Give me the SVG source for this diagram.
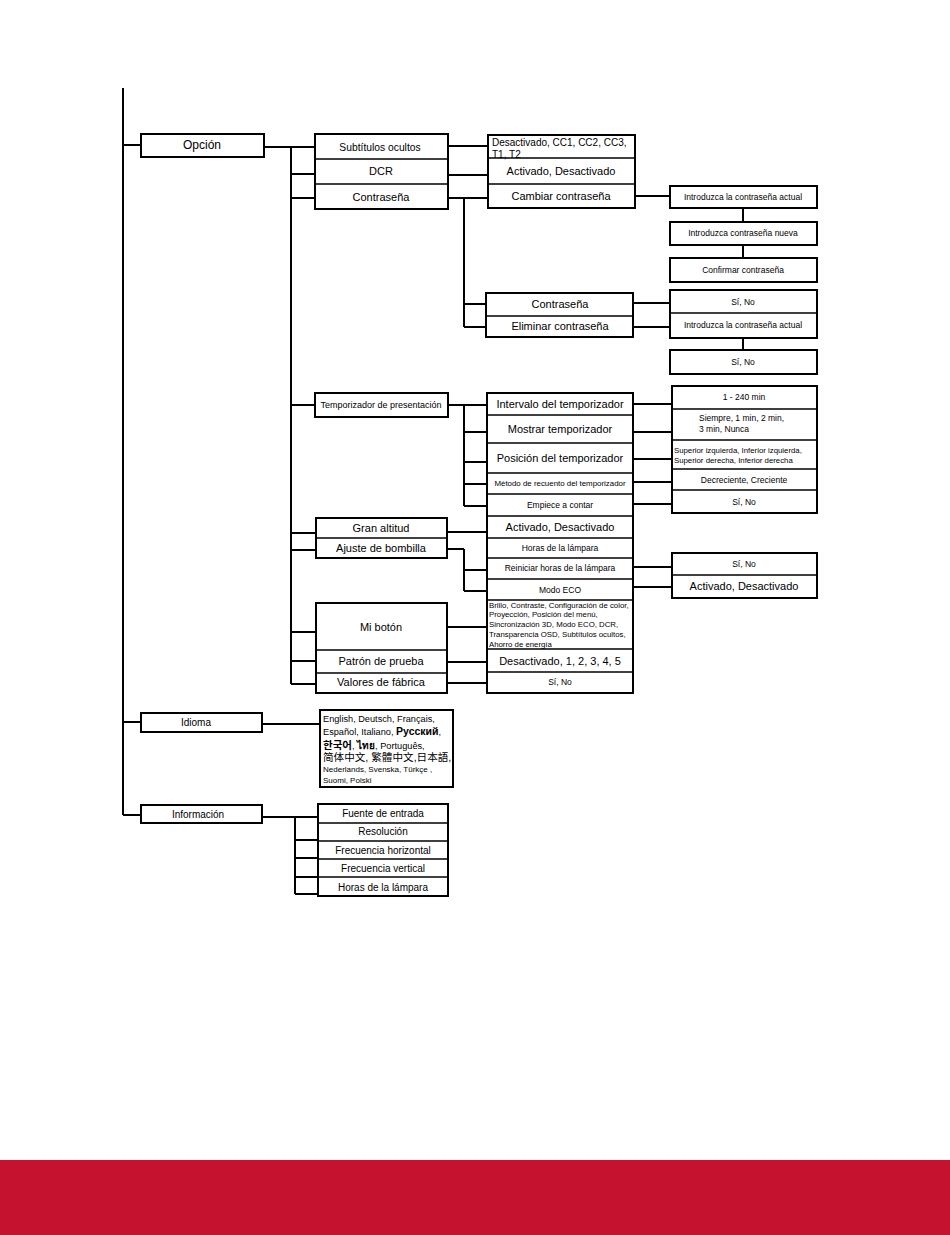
<svg xmlns="http://www.w3.org/2000/svg" width="950" height="1235" viewBox="0 0 950 1235">
<style>
.b{fill:#fff;stroke:#000;stroke-width:2}
.s{stroke:#000;stroke-width:1.6}
.c{stroke:#000;stroke-width:2;fill:none}
text{font-family:"Liberation Sans",Arial,sans-serif;fill:#000}
.m{text-anchor:middle;dominant-baseline:central}
.l{dominant-baseline:central}
.f12{font-size:12px}.f11{font-size:11px}.f10{font-size:10px}.f9{font-size:9px}.f8{font-size:8.5px}.f7{font-size:7.8px}
</style>
<rect x="0" y="1160" width="950" height="75" fill="#C4122F"/>
<g id="connectors">
<path class="c" d="M123,88V815 M123,145H141 M123,722H141 M123,815H141"/>
<path class="c" d="M264,147H315 M291,147V684 M291,174H315 M291,198H315 M291,405H315 M291,533H316 M291,550H316 M291,632H316 M291,661H316 M291,684H316"/>
<path class="c" d="M448,146H488 M448,175H488 M448,198H488 M464,198V327 M464,304H486 M464,327H486 M635,196H670 M743,208V222 M743,245V258 M633,303H670 M633,327H670 M743,338V350"/>
<path class="c" d="M448,405H487 M464,405V506 M464,432H487 M464,462H487 M464,484H487 M464,506H487 M633,404H672 M633,432H672 M633,459H672 M633,482H672 M633,504H672"/>
<path class="c" d="M447,532H487 M447,549H464 M464,549V591 M464,570H487 M464,591H487 M633,567H672 M633,587H672 M447,627H487 M447,662H487 M447,683H487"/>
<path class="c" d="M262,724H320 M262,817H318 M295,817V894 M295,840H318 M295,858H318 M295,877H318 M295,894H318"/>
</g>
<g id="opcion"><rect class="b" x="141" y="134" width="123" height="23"/><text class="m f12" x="202" y="145">Opción</text></g>
<g id="opcion-items">
<rect class="b" x="315" y="134" width="133" height="75"/>
<line class="s" x1="315" y1="159" x2="448" y2="159"/><line class="s" x1="315" y1="184" x2="448" y2="184"/>
<text class="m" style="font-size:10.3px" x="380" y="147">Subtítulos ocultos</text>
<text class="m f11" x="381" y="171">DCR</text>
<text class="m f11" x="381" y="197">Contraseña</text>
</g>
<g id="subtitulos-dcr-cambiar">
<rect class="b" x="488" y="135" width="147" height="73"/>
<line class="s" x1="488" y1="158" x2="635" y2="158"/><line class="s" x1="488" y1="184" x2="635" y2="184"/>
<text class="l f10" x="492" y="142">Desactivado, CC1, CC2, CC3,</text>
<text class="l f10" x="492" y="154">T1, T2</text>
<text class="m f11" x="561" y="171">Activado, Desactivado</text>
<text class="m f11" x="561" y="196">Cambiar contraseña</text>
</g>
<g id="cambiar-pasos">
<rect class="b" x="670" y="186" width="147" height="22"/><text class="m f8" x="743" y="197">Introduzca la contraseña actual</text>
<rect class="b" x="670" y="222" width="147" height="23"/><text class="m f8" x="743" y="233">Introduzca contraseña nueva</text>
<rect class="b" x="670" y="258" width="147" height="24"/><text class="m f8" x="743" y="270">Confirmar contraseña</text>
</g>
<g id="contrasena-eliminar">
<rect class="b" x="486" y="293" width="147" height="44"/>
<line class="s" x1="486" y1="316" x2="633" y2="316"/>
<text class="m f11" x="560" y="304">Contraseña</text>
<text class="m f11" x="560" y="326">Eliminar contraseña</text>
</g>
<g id="contrasena-opciones">
<rect class="b" x="670" y="290" width="147" height="48"/>
<line class="s" x1="670" y1="313" x2="817" y2="313"/>
<text class="m f8" x="743" y="302">Sí, No</text>
<text class="m f8" x="743" y="325">Introduzca la contraseña actual</text>
<rect class="b" x="670" y="350" width="147" height="24"/><text class="m f8" x="743" y="362">Sí, No</text>
</g>
<g id="temporizador"><rect class="b" x="315" y="393" width="133" height="24"/><text class="m f9" x="381" y="405">Temporizador de presentación</text></g>
<g id="temporizador-items">
<rect class="b" x="487" y="393" width="146" height="300"/>
<line class="s" x1="487" y1="415" x2="633" y2="415"/>
<line class="s" x1="487" y1="443" x2="633" y2="443"/>
<line class="s" x1="487" y1="473" x2="633" y2="473"/>
<line class="s" x1="487" y1="494" x2="633" y2="494"/>
<line class="s" x1="487" y1="516" x2="633" y2="516"/>
<line class="s" x1="487" y1="538" x2="633" y2="538"/>
<line class="s" x1="487" y1="558" x2="633" y2="558"/>
<line class="s" x1="487" y1="579" x2="633" y2="579"/>
<line class="s" x1="487" y1="600" x2="633" y2="600"/>
<line class="s" x1="487" y1="649" x2="633" y2="649"/>
<line class="s" x1="487" y1="672" x2="633" y2="672"/>
<text class="m f11" x="560" y="404">Intervalo del temporizador</text>
<text class="m f11" x="560" y="429">Mostrar temporizador</text>
<text class="m f11" x="560" y="458">Posición del temporizador</text>
<text class="m" style="font-size:7.9px" x="560" y="483">Método de recuento del temporizador</text>
<text class="m f8" x="560" y="505">Empiece a contar</text>
<text class="m f11" x="560" y="527">Activado, Desactivado</text>
<text class="m f8" x="560" y="548">Horas de la lámpara</text>
<text class="m f8" x="560" y="568">Reiniciar horas de la lámpara</text>
<text class="m f8" x="560" y="590">Modo ECO</text>
<text class="l f7" x="489" y="605">Brillo, Contraste, Configuración de color,</text>
<text class="l f7" x="489" y="614">Proyección, Posición del menú,</text>
<text class="l f7" x="489" y="624">Sincronización 3D, Modo ECO, DCR,</text>
<text class="l f7" x="489" y="634">Transparencia OSD, Subtítulos ocultos,</text>
<text class="l f7" x="489" y="644">Ahorro de energía</text>
<text class="m f11" x="560" y="661">Desactivado, 1, 2, 3, 4, 5</text>
<text class="m f8" x="560" y="682">Sí, No</text>
</g>
<g id="temporizador-opciones">
<rect class="b" x="672" y="386" width="145" height="127"/>
<line class="s" x1="672" y1="409" x2="817" y2="409"/>
<line class="s" x1="672" y1="440" x2="817" y2="440"/>
<line class="s" x1="672" y1="469" x2="817" y2="469"/>
<line class="s" x1="672" y1="490" x2="817" y2="490"/>
<text class="m f8" x="744" y="397">1 - 240 min</text>
<text class="l f8" x="699" y="418">Siempre, 1 min, 2 min,</text>
<text class="l f8" x="699" y="429">3 min, Nunca</text>
<text class="l f7" x="674" y="450">Superior izquierda, Inferior izquierda,</text>
<text class="l f7" x="674" y="460">Superior derecha, Inferior derecha</text>
<text class="m f8" x="744" y="480">Decreciente, Creciente</text>
<text class="m f8" x="744" y="502">Sí, No</text>
</g>
<g id="gran-altitud-ajuste">
<rect class="b" x="316" y="518" width="131" height="40"/>
<line class="s" x1="316" y1="538" x2="447" y2="538"/>
<text class="m f11" x="381" y="528">Gran altitud</text>
<text class="m f11" x="381" y="548">Ajuste de bombilla</text>
</g>
<g id="reiniciar-eco-opciones">
<rect class="b" x="672" y="553" width="145" height="45"/>
<line class="s" x1="672" y1="575" x2="817" y2="575"/>
<text class="m f8" x="744" y="564">Sí, No</text>
<text class="m f11" x="744" y="586">Activado, Desactivado</text>
</g>
<g id="mi-boton-patron-valores">
<rect class="b" x="316" y="603" width="131" height="90"/>
<line class="s" x1="316" y1="650" x2="447" y2="650"/>
<line class="s" x1="316" y1="673" x2="447" y2="673"/>
<text class="m f11" x="381" y="627">Mi botón</text>
<text class="m f11" x="381" y="661">Patrón de prueba</text>
<text class="m f11" x="381" y="682">Valores de fábrica</text>
</g>
<g id="idioma"><rect class="b" x="141" y="713" width="121" height="19"/><text class="m f10" x="196" y="722">Idioma</text></g>
<g id="idioma-lista">
<rect class="b" x="320" y="710" width="133" height="77"/>
<text style="font-size:9.2px" x="323" y="722">English,  Deutsch,  Français,</text>
<text style="font-size:9.2px" x="323" y="735">Español,  Italiano, <tspan font-weight="bold" font-size="10.5">Русский</tspan>,</text>
<text style="font-size:9.2px" x="323" y="749"><tspan font-weight="bold" font-size="10.5" font-family="'Noto Sans CJK KR',sans-serif">한국어</tspan>, <tspan font-weight="bold" font-size="10">ไทย</tspan>, Português,</text>
<text style="font-size:10.6px;font-family:'Liberation Sans','Noto Sans CJK SC',sans-serif" x="323" y="761">简体中文, 繁體中文,日本語,</text>
<text style="font-size:8px" x="323" y="772">Nederlands, Svenska, Türkçe ,</text>
<text style="font-size:8px" x="323" y="783">Suomi, Polski</text>
</g>
<g id="informacion"><rect class="b" x="141" y="805" width="121" height="18"/><text class="m f10" x="198" y="814">Información</text></g>
<g id="informacion-items">
<rect class="b" x="318" y="804" width="130" height="92"/>
<line class="s" x1="318" y1="823" x2="448" y2="823"/>
<line class="s" x1="318" y1="841" x2="448" y2="841"/>
<line class="s" x1="318" y1="859" x2="448" y2="859"/>
<line class="s" x1="318" y1="877" x2="448" y2="877"/>
<text class="m f10" x="383" y="813">Fuente de entrada</text>
<text class="m f10" x="383" y="831">Resolución</text>
<text class="m f10" x="383" y="850">Frecuencia horizontal</text>
<text class="m f10" x="383" y="868">Frecuencia vertical</text>
<text class="m f10" x="383" y="887">Horas de la lámpara</text>
</g>
</svg>
